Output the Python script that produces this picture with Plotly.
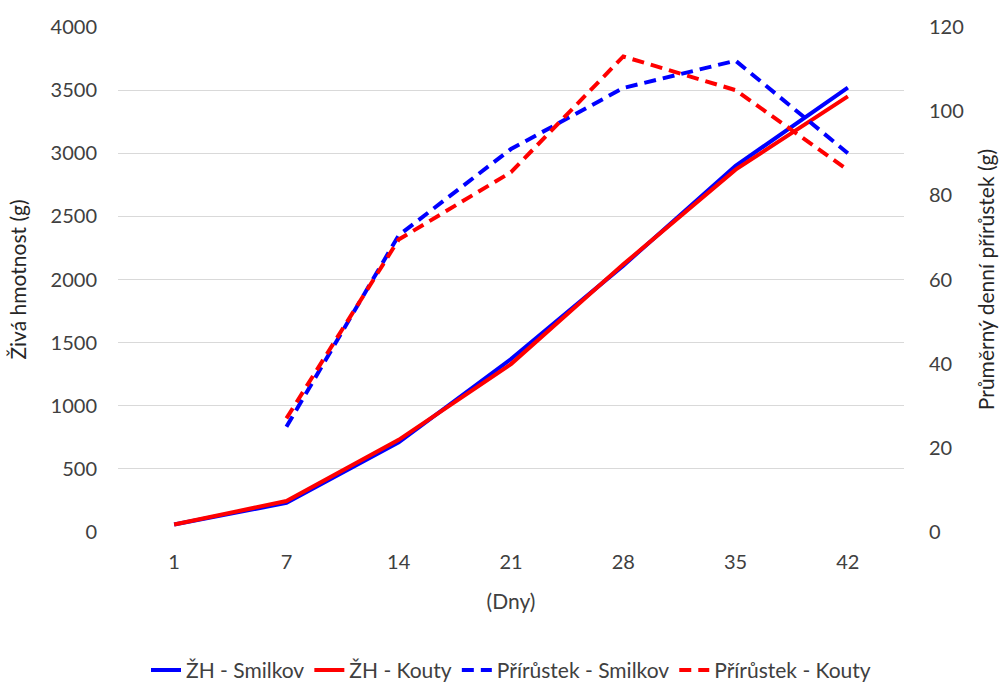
import plotly.graph_objects as go

days = ["1", "7", "14", "21", "28", "35", "42"]
zh_smilkov = [60, 230, 710, 1370, 2110, 2900, 3520]
zh_kouty = [60, 245, 730, 1330, 2120, 2870, 3450]
prir_smilkov = [None, 25, 70.5, 91, 105.5, 112, 90]
prir_kouty = [None, 27, 69.5, 85.5, 113, 105, 86]

FONT = "Lato, 'Open Sans', sans-serif"
BLUE = "#0000ff"
RED = "#ff0000"
TXT = "#404040"

fig = go.Figure()
fig.add_trace(go.Scatter(x=days, y=zh_smilkov, name="ŽH - Smilkov", mode="lines",
                         line=dict(color=BLUE, width=4), yaxis="y"))
fig.add_trace(go.Scatter(x=days, y=zh_kouty, name="ŽH - Kouty", mode="lines",
                         line=dict(color=RED, width=4), yaxis="y"))
fig.add_trace(go.Scatter(x=days, y=prir_smilkov, name="Přírůstek - Smilkov", mode="lines",
                         line=dict(color=BLUE, width=4, dash="12px,7px"), yaxis="y2"))
fig.add_trace(go.Scatter(x=days, y=prir_kouty, name="Přírůstek - Kouty", mode="lines",
                         line=dict(color=RED, width=4, dash="12px,7px"), yaxis="y2"))

fig.update_layout(
    width=1002, height=682,
    margin=dict(l=118, r=98, t=27, b=150, autoexpand=False),
    paper_bgcolor="white", plot_bgcolor="white",
    font=dict(family=FONT, size=20, color=TXT),
    showlegend=True,
    legend=dict(orientation="h", x=0.5, xanchor="center", y=-0.274, yanchor="middle",
                font=dict(size=21, color=TXT), tracegroupgap=0),
    xaxis=dict(type="category", range=[-0.5, 6.5], showgrid=False, showline=False, ticks="",
               zeroline=False, automargin=False, ticklabelstandoff=16,
               tickfont=dict(size=20, color=TXT),
               title=dict(text="(Dny)", font=dict(size=21, color=TXT), standoff=22)),
    yaxis=dict(range=[0, 4000], dtick=500, showgrid=True, gridcolor="#d9d9d9", gridwidth=1.3,
               zeroline=False, showline=False, ticks="", automargin=False, ticklabelstandoff=20,
               tickfont=dict(size=20, color=TXT),
               title=dict(text="Živá hmotnost (g)", font=dict(size=21, color="#262626"), standoff=18)),
    yaxis2=dict(range=[0, 120], dtick=20, overlaying="y", side="right", showgrid=False,
                zeroline=False, showline=False, ticks="", automargin=False, ticklabelstandoff=24,
                tickfont=dict(size=20, color=TXT),
                title=dict(text="Průměrný denní přírůstek (g)", font=dict(size=21, color="#262626"), standoff=16)),
)

fig.write_html("out.html", config={"displayModeBar": False},
               post_script="document.body.style.margin='0';document.body.style.overflow='hidden';")
